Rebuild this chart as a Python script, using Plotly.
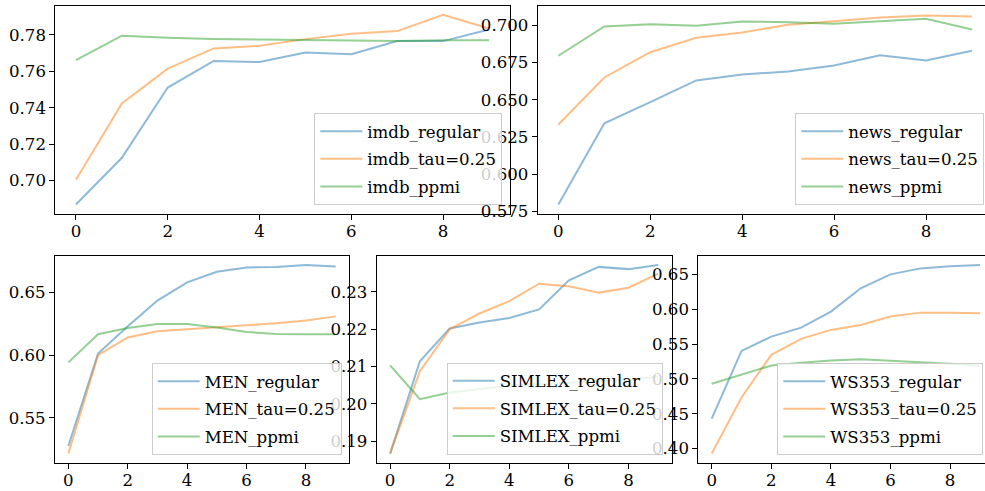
import plotly.graph_objects as go

epochs = list(range(10))

imdb_regular = [0.6868, 0.7125, 0.7511, 0.7657, 0.7651, 0.7703, 0.7694, 0.7767, 0.7766, 0.7830]
imdb_tau = [0.7004, 0.7423, 0.7615, 0.7726, 0.7740, 0.7777, 0.7806, 0.7821, 0.7911, 0.7835]
imdb_ppmi = [0.7661, 0.7796, 0.7784, 0.7777, 0.7775, 0.7771, 0.7766, 0.7766, 0.7771, 0.7771]

news_regular = [0.5795, 0.6342, 0.6484, 0.6630, 0.6670, 0.6690, 0.6731, 0.6800, 0.6764, 0.6830]
news_tau = [0.6333, 0.6650, 0.6820, 0.6917, 0.6953, 0.7005, 0.7029, 0.7054, 0.7067, 0.7061]
news_ppmi = [0.6796, 0.6993, 0.7009, 0.6998, 0.7027, 0.7022, 0.7011, 0.7029, 0.7045, 0.6973]

men_regular = [0.5276, 0.6013, 0.6229, 0.6434, 0.6579, 0.6663, 0.6697, 0.6702, 0.6716, 0.6705]
men_tau = [0.5216, 0.6000, 0.6140, 0.6190, 0.6205, 0.6224, 0.6237, 0.6253, 0.6276, 0.6308]
men_ppmi = [0.5942, 0.6166, 0.6216, 0.6247, 0.6247, 0.6219, 0.6184, 0.6168, 0.6166, 0.6165]

simlex_regular = [0.1866, 0.2114, 0.2202, 0.2218, 0.2230, 0.2253, 0.2331, 0.2367, 0.2361, 0.2372]
simlex_tau = [0.1866, 0.2087, 0.2200, 0.2242, 0.2275, 0.2322, 0.2315, 0.2298, 0.2311, 0.2349]
simlex_ppmi = [0.2103, 0.2012, 0.2030, 0.2040, 0.2048, 0.2052, 0.2055, 0.2060, 0.2065, 0.2072]

ws_regular = [0.4429, 0.5402, 0.5607, 0.5736, 0.5965, 0.6300, 0.6500, 0.6586, 0.6615, 0.6633]
ws_tau = [0.3928, 0.4734, 0.5345, 0.5574, 0.5703, 0.5774, 0.5894, 0.5951, 0.5951, 0.5942]
ws_ppmi = [0.4930, 0.5059, 0.5192, 0.5231, 0.5264, 0.5283, 0.5264, 0.5241, 0.5216, 0.5188]

x_ticks = [0, 2, 4, 6, 8]

panels = [
    ("imdb", [imdb_regular, imdb_tau, imdb_ppmi]),
    ("news", [news_regular, news_tau, news_ppmi]),
    ("MEN", [men_regular, men_tau, men_ppmi]),
    ("SIMLEX", [simlex_regular, simlex_tau, simlex_ppmi]),
    ("WS353", [ws_regular, ws_tau, ws_ppmi]),
]
suffixes = ["_regular", "_tau=0.25", "_ppmi"]
colors = ["#1f77b4", "#ff7f0e", "#2ca02c"]

W, H = 985, 491
# pixel geometry of axes: (left, right, top, bottom), x-range right end, ytick settings
geom = [
    (55.3, 509.7, 6, 214, 9.45, [0.70, 0.72, 0.74, 0.76, 0.78], ".2f", (0.6816, 0.7959), (502.3, 205), True),
    (537.7, 985, 6, 214, 9.284, [0.575, 0.600, 0.625, 0.650, 0.675, 0.700], ".3f", (0.5731, 0.7131), (984.3, 205), False),
    (55, 349, 255.7, 463, 9.45, [0.55, 0.60, 0.65], ".2f", (0.5141, 0.6791), (341.7, 455), True),
    (376.7, 671.7, 255.7, 463, 9.45, [0.19, 0.20, 0.21, 0.22, 0.23], ".2f", (0.1841, 0.2397), (662.7, 454.5), True),
    (698.3, 985, 255.7, 463, 9.17, [0.40, 0.45, 0.50, 0.55, 0.60, 0.65], ".2f", (0.3793, 0.6768), (983.3, 455), False),
]

font = dict(family="DejaVu Serif", size=16.6, color="black")
fig = go.Figure()
layout = dict(
    width=W, height=H, margin=dict(l=0, r=0, t=0, b=0, autoexpand=False),
    paper_bgcolor="white", plot_bgcolor="white", font=font,
    hovermode=False,
)

for i, ((name, series), g) in enumerate(zip(panels, geom)):
    left, right, top, bottom, xr, yt, yf, yr, (lx, ly), mirror_y = g
    n = "" if i == 0 else str(i + 1)
    legname = "legend" if i == 0 else f"legend{i + 1}"
    for j, (vals, suf, c) in enumerate(zip(series, suffixes, colors)):
        fig.add_trace(go.Scatter(
            x=epochs, y=vals, mode="lines", name=name + suf,
            line=dict(color=c, width=2), opacity=0.5,
            xaxis="x" + n, yaxis="y" + n, legend=legname,
            legendgroup=f"{name}{j}",
        ))
    layout["xaxis" + n] = dict(
        domain=[left / W, right / W], anchor="y" + n, range=[-0.45, xr],
        tickvals=x_ticks, showgrid=False, zeroline=False, showline=True,
        linecolor="black", linewidth=1, mirror=True, ticks="outside",
        ticklen=5, tickwidth=1, tickcolor="black", tickfont=font,
        automargin=False, ticklabelstandoff=-3,
    )
    layout["yaxis" + n] = dict(
        domain=[(H - bottom) / H, (H - top) / H], anchor="x" + n, range=list(yr),
        tickvals=yt, tickformat=yf, showgrid=False, zeroline=False, showline=True,
        linecolor="black", linewidth=1, mirror=mirror_y, ticks="outside",
        ticklen=5, tickwidth=1, tickcolor="black", tickfont=font,
        automargin=False,
    )
    layout[legname] = dict(
        x=lx / W, y=(H - ly) / H, xanchor="right", yanchor="bottom",
        bgcolor="rgba(255,255,255,0.8)", bordercolor="#cccccc", borderwidth=1,
        font=font, tracegroupgap=3, itemwidth=42,
    )

fig.update_layout(**layout)
fig.write_html(
    "out.html",
    config={"displayModeBar": False},
    post_script="document.body.style.margin='0';document.body.style.overflow='hidden';",
)
